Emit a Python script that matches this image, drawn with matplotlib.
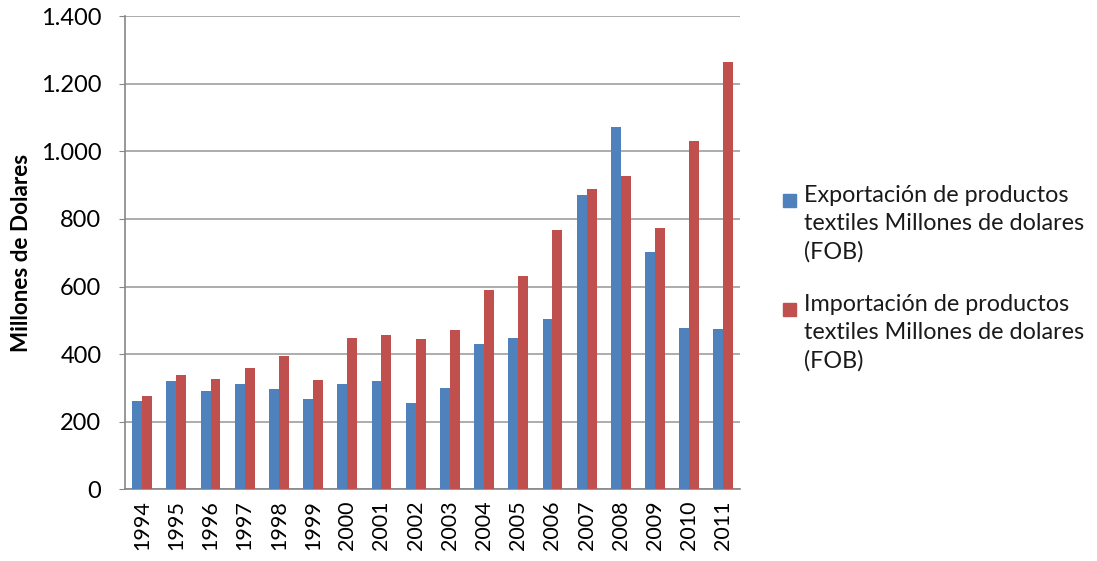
import numpy as np
import matplotlib.pyplot as plt
from matplotlib.patches import Rectangle
from matplotlib.ticker import FuncFormatter

plt.rcParams['font.family'] = ['Lato', 'DejaVu Sans']

# exportaciones e importaciones textiles, millones de USD (FOB)
anios = [str(a) for a in range(1994, 2012)]
exportacion = [260, 319, 290, 311, 296, 267, 311, 319, 256, 300,
               429, 448, 503, 872, 1071, 701, 478, 474]
importacion = [275, 337, 326, 360, 393, 322, 448, 455, 444, 470,
               591, 630, 767, 890, 927, 772, 1031, 1264]
etiquetas = ["Exportación de productos\ntextiles Millones de dolares\n(FOB)",
             "Importación de productos\ntextiles Millones de dolares\n(FOB)"]
colores = ["#4F81BD", "#C0504D"]

fig = plt.figure(figsize=(10.97, 5.61), dpi=100)
ax = fig.add_axes([0.114, 0.128, 0.561, 0.843])

x = np.arange(len(anios))
ancho = 0.29
ax.bar(x - ancho / 2, exportacion, ancho, color=colores[0], zorder=3)
ax.bar(x + ancho / 2, importacion, ancho, color=colores[1], zorder=3)

ax.set_xlim(-0.5, len(anios) - 0.5)
ax.set_ylim(0, 1400)
ax.set_yticks(range(0, 1401, 200))
ax.yaxis.set_major_formatter(FuncFormatter(lambda v, p: f"{int(v):,}".replace(",", ".")))
ax.set_xticks(x)
ax.set_xticklabels(anios, rotation=90, fontsize=15.5)
ax.tick_params(axis='x', length=0, pad=8)
ax.tick_params(axis='y', labelsize=17, length=4, color="#868686", pad=13)

ax.grid(axis='y', color="#a6a6a6", linewidth=1.3, zorder=0)
for s in ['top', 'right']:
    ax.spines[s].set_visible(False)
for s in ['left', 'bottom']:
    ax.spines[s].set_color("#868686")
    ax.spines[s].set_linewidth(1.2)

ax.set_ylabel("Millones de Dolares", fontsize=16.2, fontweight='bold')
ax.yaxis.set_label_coords(-0.152, 0.5)

# leyenda a la derecha
for i, (lab, col) in enumerate(zip(etiquetas, colores)):
    y0 = 1 - 188 / 561 - i * 109 / 561
    fig.patches.append(Rectangle((783 / 1097, y0 - 19 / 561), 13 / 1097, 13 / 561,
                                 transform=fig.transFigure, color=col))
    fig.text(804 / 1097, y0 + 3 / 561, lab, fontsize=16.8, va='top', ha='left',
             linespacing=1.42, color="#1a1a1a")

fig.savefig("out.png", dpi=100)
